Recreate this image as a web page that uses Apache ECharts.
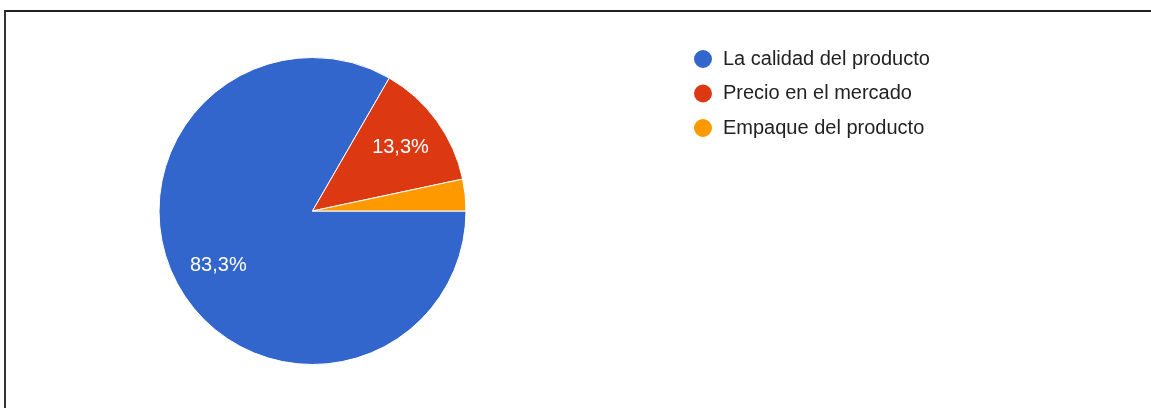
<!DOCTYPE html>
<html>
<head>
<meta charset="utf-8">
<script src="https://cdn.jsdelivr.net/npm/echarts@6/dist/echarts.min.js"></script>
<style>
  html, body { margin: 0; padding: 0; background: #fff; }
  #wrap { position: relative; width: 1151px; height: 408px; overflow: hidden; }
  #chart { position: absolute; left: 0; top: 0; width: 1151px; height: 408px; }
  #frame { position: absolute; left: 4px; top: 10px; width: 1200px; height: 500px;
           border-top: 2px solid #222; border-left: 2px solid #333; pointer-events: none; }
</style>
</head>
<body>
<div id="wrap">
  <div id="chart"></div>
  <div id="frame"></div>
</div>
<script>
const categories = ['La calidad del producto', 'Precio en el mercado', 'Empaque del producto'];
const values = [25, 4, 1];
const colors = ['#3366cc', '#dc3912', '#ff9900'];

const data = categories.map((c, i) => ({ name: c, value: values[i] }));
const fmt = p => p.percent < 5 ? '' : p.percent.toFixed(1).replace('.', ',') + '%';

const chart = echarts.init(document.getElementById('chart'), null, { renderer: 'canvas' });
chart.setOption({
  animation: false,
  color: colors,
  legend: {
    orient: 'vertical',
    left: 687,
    top: 43,
    icon: 'circle',
    itemWidth: 20,
    itemHeight: 20,
    itemGap: 14.5 - 2,
    textStyle: { fontFamily: 'Liberation Sans, Arial, sans-serif', fontSize: 20, color: '#222', padding: [0, 0, 0, 5] },
    data: categories
  },
  series: [
    {
      type: 'pie',
      center: [312.5, 211],
      radius: [0, 153.5],
      startAngle: 0,
      clockwise: true,
      label: { show: false },
      labelLine: { show: false },
      itemStyle: { borderColor: '#fff', borderWidth: 1 },
      emphasis: { disabled: true },
      data: data
    },
    {
      type: 'pie',
      center: [312.5, 211],
      radius: [58, 153.5],
      startAngle: 0,
      clockwise: true,
      silent: true,
      itemStyle: { color: 'rgba(0,0,0,0)', borderWidth: 0 },
      label: {
        show: true,
        position: 'inside',
        formatter: fmt,
        color: '#fff',
        fontFamily: 'Liberation Sans, Arial, sans-serif',
        fontSize: 20
      },
      labelLine: { show: false },
      emphasis: { disabled: true },
      data: data
    }
  ]
});
</script>
</body>
</html>
